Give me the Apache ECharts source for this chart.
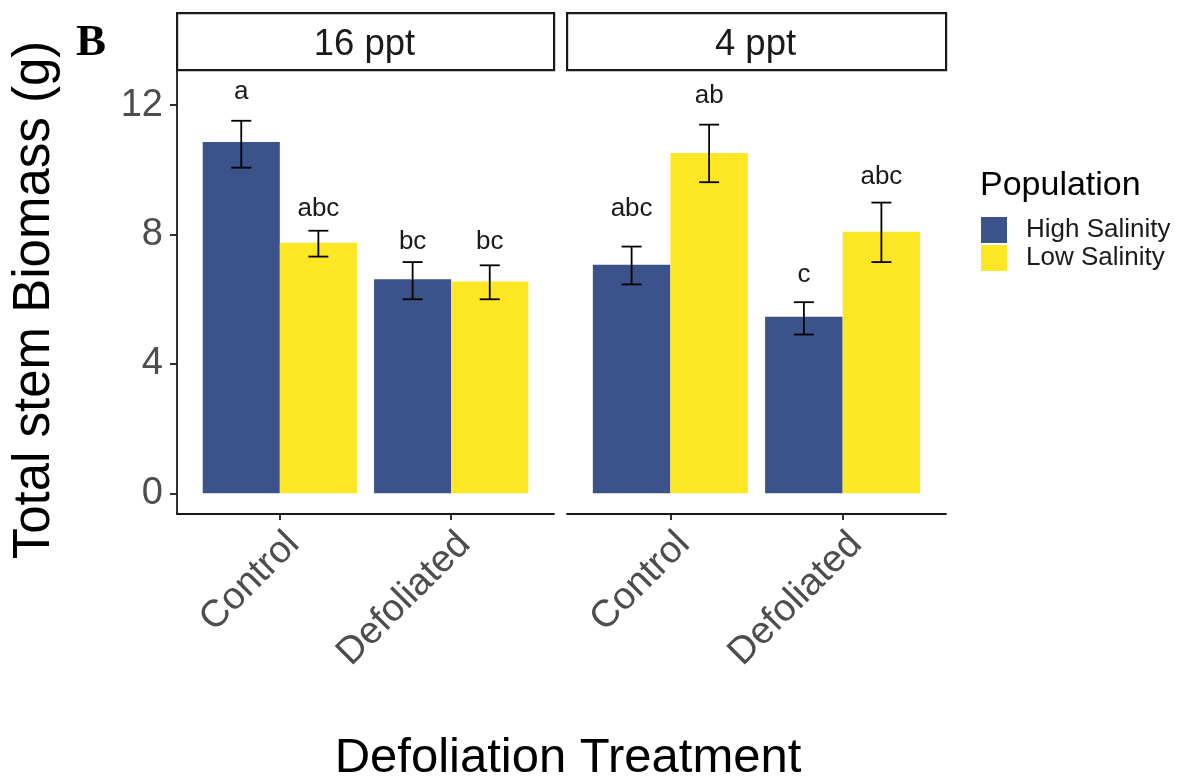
<!DOCTYPE html>
<html>
<head>
<meta charset="utf-8">
<script src="https://cdn.jsdelivr.net/npm/echarts@6/dist/echarts.min.js"></script>
<style>
html,body{margin:0;padding:0;background:#fff;}
#chart{width:1184px;height:784px;}
</style>
</head>
<body>
<div id="chart"></div>
<script>
// ---------- data ----------
const categories = ['Control', 'Defoliated'];
const facetLabels = ['16 ppt', '4 ppt'];
const populations = ['High Salinity', 'Low Salinity'];
const yTicks = [0, 4, 8, 12];

// 16 ppt facet
const high16Mean = [10.86, 6.62];
const high16Lower = [10.07, 6.00];
const high16Upper = [11.52, 7.15];
const high16Letters = ['a', 'bc'];
const high16LetterY = [12.42, 7.78];
const low16Mean = [7.75, 6.55];
const low16Lower = [7.32, 6.00];
const low16Upper = [8.12, 7.05];
const low16Letters = ['abc', 'bc'];
const low16LetterY = [8.80, 7.78];

// 4 ppt facet
const high4Mean = [7.07, 5.46];
const high4Lower = [6.46, 4.91];
const high4Upper = [7.63, 5.91];
const high4Letters = ['abc', 'c'];
const high4LetterY = [8.80, 6.76];
const low4Mean = [10.52, 8.09];
const low4Lower = [9.62, 7.15];
const low4Upper = [11.40, 8.99];
const low4Letters = ['ab', 'abc'];
const low4LetterY = [12.28, 9.79];

// ---------- style / layout ----------
const COLORS = ['#3B528B', '#FDE725'];
const FONT = '"Liberation Sans", Arial, sans-serif';
const Y_MIN = -0.64, Y_MAX = 13.09;
const X_MIN = 0.4, X_MAX = 2.6;
const BAR_W = 0.45;
const AXIS_COLOR = '#1a1a1a';
const grids = [
  { left: 177, top: 70, width: 377, height: 444 },
  { left: 567, top: 70, width: 379, height: 444 }
];

function popSeries(gridIdx, popIdx, mean, lower, upper, letters, letterY) {
  const offset = popIdx === 0 ? -BAR_W : 0;
  const color = COLORS[popIdx];
  return [
    {
      type: 'custom', name: populations[popIdx],
      xAxisIndex: gridIdx, yAxisIndex: gridIdx,
      itemStyle: { color: color },
      encode: { x: 0, y: 1 },
      data: mean.map((v, i) => [i + 1, v]),
      renderItem: function (params, api) {
        const x = api.value(0), v = api.value(1);
        const a = api.coord([x + offset, v]);
        const b = api.coord([x + offset + BAR_W, 0]);
        return { type: 'rect', shape: { x: a[0], y: a[1], width: b[0] - a[0], height: b[1] - a[1] },
                 style: { fill: color } };
      }
    },
    {
      type: 'custom', xAxisIndex: gridIdx, yAxisIndex: gridIdx, silent: true, z: 5,
      encode: { x: 0, y: [1, 2] },
      data: lower.map((lo, i) => [i + 1, lo, upper[i]]),
      renderItem: function (params, api) {
        const xc = api.value(0) + offset + BAR_W / 2;
        const t = api.coord([xc, api.value(2)]);
        const b = api.coord([xc, api.value(1)]);
        const st = { stroke: '#000', lineWidth: 1.8 };
        return { type: 'group', children: [
          { type: 'line', shape: { x1: t[0], y1: t[1], x2: b[0], y2: b[1] }, style: st },
          { type: 'line', shape: { x1: t[0] - 10, y1: t[1], x2: t[0] + 10, y2: t[1] }, style: st },
          { type: 'line', shape: { x1: b[0] - 10, y1: b[1], x2: b[0] + 10, y2: b[1] }, style: st }
        ] };
      }
    },
    {
      type: 'custom', xAxisIndex: gridIdx, yAxisIndex: gridIdx, silent: true, z: 6,
      encode: { x: 0, y: 1 },
      data: letterY.map((y, i) => [i + 1, y]),
      renderItem: function (params, api) {
        const p = api.coord([api.value(0) + offset + BAR_W / 2, api.value(1)]);
        return { type: 'text', x: p[0], y: p[1],
                 style: { text: letters[params.dataIndex], fontSize: 26, fontFamily: FONT,
                          fill: '#1a1a1a', align: 'center', verticalAlign: 'middle' } };
      }
    }
  ];
}

function catLabelSeries(gridIdx) {
  return {
    type: 'custom', xAxisIndex: gridIdx, yAxisIndex: gridIdx, silent: true, clip: false,
    encode: { x: 0, y: 1 },
    data: categories.map((c, i) => [i + 1, Y_MIN]),
    renderItem: function (params, api) {
      const p = api.coord([api.value(0), api.value(1)]);
      return { type: 'text', x: p[0], y: p[1] + 11, rotation: Math.PI / 4,
               style: { text: categories[params.dataIndex], fontSize: 38, fontFamily: FONT,
                        fill: '#4d4d4d', align: 'right', verticalAlign: 'top' } };
    }
  };
}

const xAxes = grids.map((g, i) => ({
  type: 'value', gridIndex: i, min: X_MIN, max: X_MAX,
  axisLine: { show: true, onZero: false, lineStyle: { color: AXIS_COLOR, width: 1.8 } },
  axisTick: { show: true, customValues: [1, 2], length: 6, lineStyle: { color: AXIS_COLOR, width: 1.8 } },
  axisLabel: { show: false },
  splitLine: { show: false }
}));

const yAxes = grids.map((g, i) => ({
  type: 'value', gridIndex: i, min: Y_MIN, max: Y_MAX,
  axisLine: { show: i === 0, lineStyle: { color: AXIS_COLOR, width: 1.8 } },
  axisTick: { show: i === 0, customValues: yTicks, length: 7, lineStyle: { color: AXIS_COLOR, width: 1.8 } },
  axisLabel: { show: i === 0, customValues: yTicks, fontSize: 38, fontFamily: FONT, color: '#4d4d4d', margin: 14 },
  splitLine: { show: false }
}));

const stripGraphics = [];
grids.forEach((g, i) => {
  stripGraphics.push({
    type: 'rect', left: g.left - 1, top: 12,
    shape: { width: g.width, height: 57 },
    style: { fill: '#fff', stroke: '#1a1a1a', lineWidth: 2.2 }
  });
  stripGraphics.push({
    type: 'text', x: g.left - 1 + g.width / 2, y: 45,
    style: { text: facetLabels[i], fontSize: 36.5, fontFamily: FONT, fill: '#1a1a1a',
             align: 'center', verticalAlign: 'middle' }
  });
});

const option = {
  animation: false,
  backgroundColor: '#fff',
  grid: grids.map(g => Object.assign({ containLabel: false }, g)),
  xAxis: xAxes,
  yAxis: yAxes,
  legend: {
    orient: 'vertical', left: 981, top: 217, padding: 0,
    itemWidth: 26, itemHeight: 26, itemGap: 2,
    selectedMode: false,
    textStyle: { fontSize: 26, fontFamily: FONT, color: '#1a1a1a', padding: [5, 0, 0, 14] },
    data: populations.map((p, i) => ({ name: p, icon: 'rect', itemStyle: { color: COLORS[i] } }))
  },
  graphic: stripGraphics.concat([
    { type: 'text', x: 76, y: 43,
      style: { text: 'B', fontSize: 45, fontWeight: 'bold', fontFamily: '"Liberation Serif", "Times New Roman", serif',
               fill: '#000', align: 'left', verticalAlign: 'middle' } },
    { type: 'text', x: 35, y: 300, rotation: Math.PI / 2,
      style: { text: 'Total stem Biomass (g)', fontSize: 51, fontFamily: FONT, fill: '#000',
               align: 'center', verticalAlign: 'middle' } },
    { type: 'text', x: 568, y: 758,
      style: { text: 'Defoliation Treatment', fontSize: 49, fontFamily: FONT, fill: '#000',
               align: 'center', verticalAlign: 'middle' } },
    { type: 'text', x: 980, y: 186,
      style: { text: 'Population', fontSize: 34, fontFamily: FONT, fill: '#000',
               align: 'left', verticalAlign: 'middle' } }
  ]),
  series: [].concat(
    popSeries(0, 0, high16Mean, high16Lower, high16Upper, high16Letters, high16LetterY),
    popSeries(0, 1, low16Mean, low16Lower, low16Upper, low16Letters, low16LetterY),
    popSeries(1, 0, high4Mean, high4Lower, high4Upper, high4Letters, high4LetterY),
    popSeries(1, 1, low4Mean, low4Lower, low4Upper, low4Letters, low4LetterY),
    [catLabelSeries(0), catLabelSeries(1)]
  )
};

const chart = echarts.init(document.getElementById('chart'), null, { renderer: 'canvas' });
chart.setOption(option);
</script>
</body>
</html>
